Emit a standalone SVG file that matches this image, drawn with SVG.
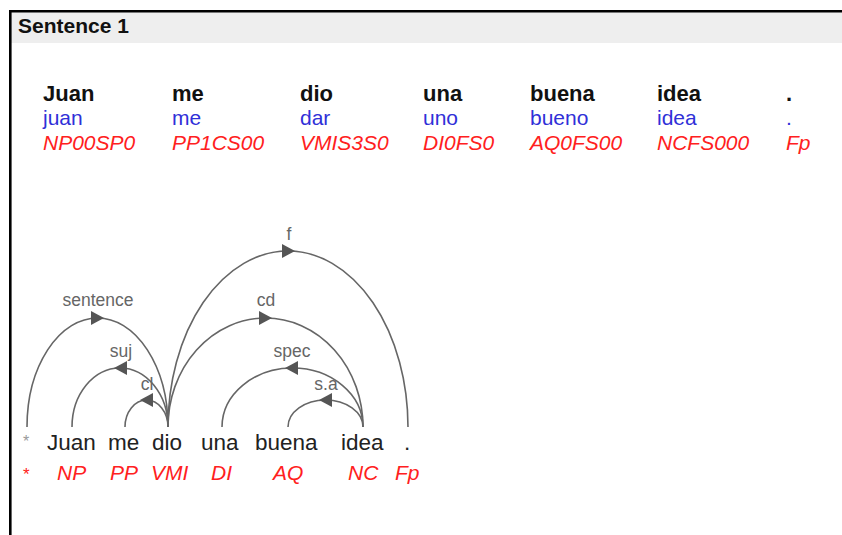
<svg xmlns="http://www.w3.org/2000/svg" width="842" height="535" viewBox="0 0 842 535">
<style>
.hdr{font-family:"Liberation Sans",Arial,sans-serif;font-weight:bold;font-size:21px;fill:#111}
.w{font-family:"Liberation Sans",Arial,sans-serif;font-weight:bold;font-size:22px;fill:#111}
.lem{font-family:"Liberation Sans",Arial,sans-serif;font-size:21px;fill:#3030d8}
.tag{font-family:"Liberation Sans",Arial,sans-serif;font-style:italic;font-size:21px;fill:#ff2020}
.tok{font-family:"Liberation Sans",Arial,sans-serif;font-size:22.5px;fill:#222}
.star{font-family:"Liberation Sans",Arial,sans-serif;font-size:16px;fill:#999}
.lbl{font-family:"Liberation Sans",Arial,sans-serif;font-size:17.5px;fill:#666;text-anchor:middle}
.arc{fill:none;stroke:#666;stroke-width:1.6}
.ah{fill:#555}
</style>
<rect x="0" y="0" width="842" height="535" fill="#fff"/>
<rect x="11" y="12" width="831" height="31" fill="#eeeeee"/>
<line x1="9" y1="11.3" x2="842" y2="11.3" stroke="#000" stroke-width="2.6"/>
<line x1="10.3" y1="10" x2="10.3" y2="535" stroke="#000" stroke-width="2.6"/>
<text class="hdr" x="18" y="33">Sentence 1</text>

<g id="table">
<g id="t-juan"><text class="w" x="43" y="101">Juan</text><text class="lem" x="43" y="125">juan</text><text class="tag" x="43" y="150">NP00SP0</text></g>
<g id="t-me"><text class="w" x="172" y="101">me</text><text class="lem" x="172" y="125">me</text><text class="tag" x="172" y="150">PP1CS00</text></g>
<g id="t-dio"><text class="w" x="300" y="101">dio</text><text class="lem" x="300" y="125">dar</text><text class="tag" x="300" y="150">VMIS3S0</text></g>
<g id="t-una"><text class="w" x="423" y="101">una</text><text class="lem" x="423" y="125">uno</text><text class="tag" x="423" y="150">DI0FS0</text></g>
<g id="t-buena"><text class="w" x="530" y="101">buena</text><text class="lem" x="530" y="125">bueno</text><text class="tag" x="530" y="150">AQ0FS00</text></g>
<g id="t-idea"><text class="w" x="657" y="101">idea</text><text class="lem" x="657" y="125">idea</text><text class="tag" x="657" y="150">NCFS000</text></g>
<g id="t-dot"><text class="w" x="786" y="101">.</text><text class="lem" x="786" y="125">.</text><text class="tag" x="786" y="150">Fp</text></g>
</g>

<g id="connectors">
<path class="arc" d="M27,427 A70.5,109 0 0 1 168,427"/>
<path class="arc" d="M72,427 A48,59 0 0 1 168,427"/>
<path class="arc" d="M125,427 A21.5,27 0 0 1 168,427"/>
<path class="arc" d="M168,427 A120,176 0 0 1 408,427"/>
<path class="arc" d="M168,427 A97.5,109 0 0 1 363,427"/>
<path class="arc" d="M222,427 A70.5,59 0 0 1 363,427"/>
<path class="arc" d="M288,427 A37.5,27 0 0 1 363,427"/>
<polygon class="ah" points="91,311 104,318 91,325"/>
<polygon class="ah" points="127,361 114,368 127,375"/>
<polygon class="ah" points="153,393 140,400 153,407"/>
<polygon class="ah" points="282,244 295,251 282,258"/>
<polygon class="ah" points="259,311 272,318 259,325"/>
<polygon class="ah" points="298,361 285,368 298,375"/>
<polygon class="ah" points="332,393 319,400 332,407"/>
<text class="lbl" x="98" y="306">sentence</text>
<text class="lbl" x="121" y="357">suj</text>
<text class="lbl" x="147" y="390">cl</text>
<text class="lbl" x="289" y="240">f</text>
<text class="lbl" x="266" y="306">cd</text>
<text class="lbl" x="292" y="357">spec</text>
<text class="lbl" x="326" y="390">s.a</text>
</g>

<g id="n-root"><text class="star" x="23" y="447">*</text><text class="tag" x="23" y="480" style="font-style:normal;font-size:17px">*</text></g>
<g id="n-juan"><text class="tok" x="47" y="450">Juan</text><text class="tag" x="57" y="480">NP</text></g>
<g id="n-me"><text class="tok" x="108" y="450">me</text><text class="tag" x="110" y="480">PP</text></g>
<g id="n-dio"><text class="tok" x="152" y="450">dio</text><text class="tag" x="151" y="480">VMI</text></g>
<g id="n-una"><text class="tok" x="201" y="450">una</text><text class="tag" x="211" y="480">DI</text></g>
<g id="n-buena"><text class="tok" x="255" y="450">buena</text><text class="tag" x="273" y="480">AQ</text></g>
<g id="n-idea"><text class="tok" x="341" y="450">idea</text><text class="tag" x="348" y="480">NC</text></g>
<g id="n-dot"><text class="tok" x="404" y="450">.</text><text class="tag" x="395" y="480">Fp</text></g>
</svg>
